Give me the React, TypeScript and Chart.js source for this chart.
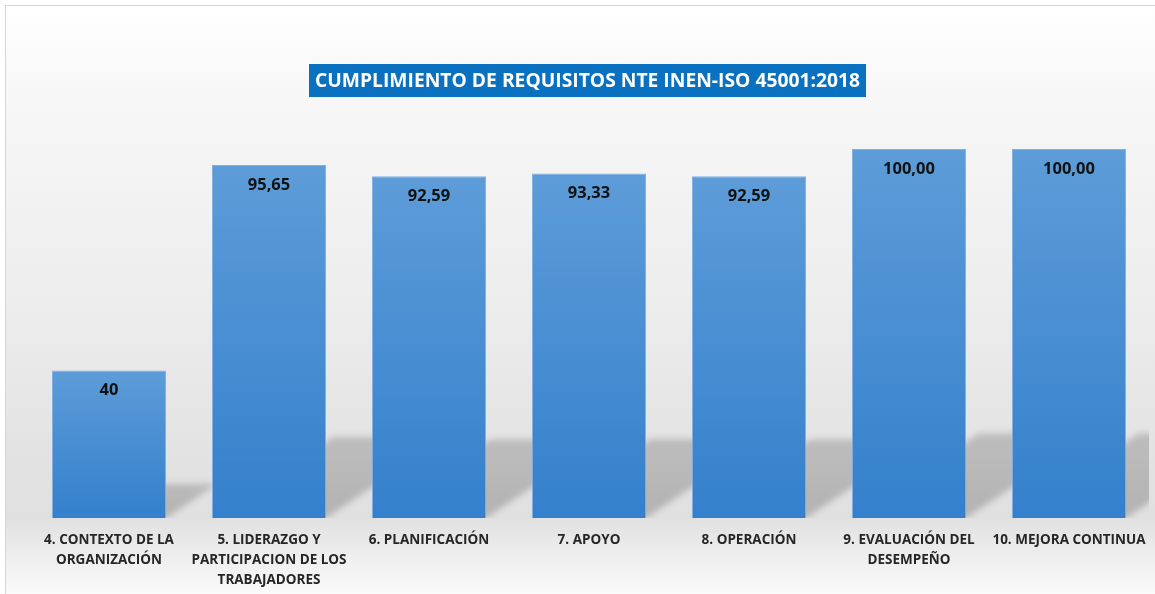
import { useEffect, useRef } from "react";
import { Chart, registerables } from "chart.js";

Chart.register(...registerables);

const CATEGORIES: string[][] = [
  ["4. CONTEXTO DE LA", "ORGANIZACIÓN"],
  ["5. LIDERAZGO Y", "PARTICIPACION DE LOS", "TRABAJADORES"],
  ["6. PLANIFICACIÓN"],
  ["7. APOYO"],
  ["8. OPERACIÓN"],
  ["9. EVALUACIÓN DEL", "DESEMPEÑO"],
  ["10. MEJORA CONTINUA"],
];
const VALUES = [40, 95.65, 92.59, 93.33, 92.59, 100, 100];
const VALUE_LABELS = ["40", "95,65", "92,59", "93,33", "92,59", "100,00", "100,00"];
const TITLE = "CUMPLIMIENTO DE REQUISITOS NTE INEN-ISO 45001:2018";

const FONT = '"Open Sans", "DejaVu Sans", sans-serif';

const backgroundPlugin = {
  id: "bgPlugin",
  beforeDraw(chart: any) {
    const { ctx, width, height } = chart;
    ctx.save();
    ctx.fillStyle = "#ffffff";
    ctx.fillRect(0, 0, width, height);
    const g = ctx.createLinearGradient(0, 5, 0, height);
    g.addColorStop(0, "#ffffff");
    g.addColorStop(0.15, "#f7f7f7");
    g.addColorStop(0.5, "#ededed");
    g.addColorStop(0.75, "#e3e3e3");
    g.addColorStop(0.87, "#e0e0e0");
    g.addColorStop(0.92, "#ebebeb");
    g.addColorStop(1, "#fafafa");
    ctx.fillStyle = g;
    ctx.fillRect(5, 5, width, height);
    ctx.strokeStyle = "#d6d6d6";
    ctx.lineWidth = 1;
    ctx.strokeRect(5.5, 5.5, width + 20, height + 20);
    ctx.restore();
  },
};

const shadowPlugin = {
  id: "shadowPlugin",
  beforeDatasetsDraw(chart: any) {
    const { ctx, chartArea } = chart;
    const meta = chart.getDatasetMeta(0);
    ctx.save();
    ctx.beginPath();
    ctx.rect(chartArea.left, 0, chartArea.right - chartArea.left, chartArea.bottom);
    ctx.clip();
    ctx.filter = "blur(3px)";
    meta.data.forEach((bar: any) => {
      const p = bar.getProps(["x", "y", "base", "width"], true);
      const L = p.x - p.width / 2;
      const R = p.x + p.width / 2;
      const h = (p.base - p.y) * 0.23;
      const dx = h * 1.5;
      const g = ctx.createLinearGradient(0, p.base, 0, p.base - h);
      g.addColorStop(0, "rgba(0,0,0,0.20)");
      g.addColorStop(1, "rgba(0,0,0,0.17)");
      ctx.fillStyle = g;
      ctx.beginPath();
      ctx.moveTo(L, p.base);
      ctx.lineTo(R, p.base);
      ctx.lineTo(R + dx, p.base - h);
      ctx.lineTo(L + dx, p.base - h);
      ctx.closePath();
      ctx.fill();
    });
    ctx.restore();
  },
};

const labelPlugin = {
  id: "labelPlugin",
  afterDatasetsDraw(chart: any) {
    const { ctx } = chart;
    const meta = chart.getDatasetMeta(0);
    ctx.save();
    ctx.font = `bold 16.5px ${FONT}`;
    ctx.fillStyle = "#111111";
    ctx.textAlign = "center";
    ctx.textBaseline = "middle";
    meta.data.forEach((bar: any, i: number) => {
      ctx.fillText(VALUE_LABELS[i], bar.x, bar.y + 20);
    });
    ctx.restore();
  },
};

const titlePlugin = {
  id: "titlePlugin",
  afterDraw(chart: any) {
    const { ctx } = chart;
    ctx.save();
    ctx.fillStyle = "#0a70c0";
    ctx.fillRect(309, 64, 557, 33);
    ctx.fillStyle = "#ffffff";
    ctx.font = `bold 20px ${FONT}`;
    ctx.textAlign = "center";
    ctx.textBaseline = "middle";
    ctx.fillText(TITLE, 587.5, 81, 545);
    ctx.restore();
  },
};

export default function App() {
  const ref = useRef<HTMLCanvasElement | null>(null);

  useEffect(() => {
    if (!ref.current) return;
    const chart = new Chart(ref.current, {
      type: "bar",
      data: {
        labels: CATEGORIES,
        datasets: [
          {
            data: VALUES,
            barPercentage: 0.7125,
            categoryPercentage: 1,
            borderWidth: 1,
            borderColor: "rgba(120,170,225,0.9)",
            backgroundColor: (c: any) => {
              const chart = c.chart;
              const area = chart.chartArea;
              if (!area || c.raw === undefined) return "#4a8fd3";
              const y = chart.scales.y;
              const top = y.getPixelForValue(c.raw);
              const bottom = y.getPixelForValue(0);
              const g = chart.ctx.createLinearGradient(0, top, 0, bottom);
              g.addColorStop(0, "#5d9cd8");
              g.addColorStop(1, "#3480cc");
              return g;
            },
          },
        ],
      },
      options: {
        animation: false,
        responsive: false,
        maintainAspectRatio: false,
        layout: { padding: { left: 29, right: 6, top: 149, bottom: 4 } },
        plugins: {
          legend: { display: false },
          title: { display: false },
          tooltip: { enabled: false },
        },
        scales: {
          x: {
            grid: { display: false, drawTicks: false },
            border: { display: false },
            afterFit: (scale: any) => {
              scale.height = 72;
              scale.paddingLeft = 0;
              scale.paddingRight = 0;
            },
            ticks: {
              color: "#262626",
              font: { family: FONT, size: 13.5, weight: "bold", lineHeight: "20px" },
              padding: 12,
              maxRotation: 0,
              minRotation: 0,
              autoSkip: false,
            },
          },
          y: {
            display: false,
            min: 0,
            max: 100,
          },
        },
      },
      plugins: [backgroundPlugin, shadowPlugin, labelPlugin, titlePlugin],
    });
    return () => chart.destroy();
  }, []);

  return (
    <div style={{ position: "fixed", left: 0, top: 0, width: 1155, height: 594 }}>
      <canvas ref={ref} width={1155} height={594} style={{ width: 1155, height: 594, display: "block" }} />
    </div>
  );
}
